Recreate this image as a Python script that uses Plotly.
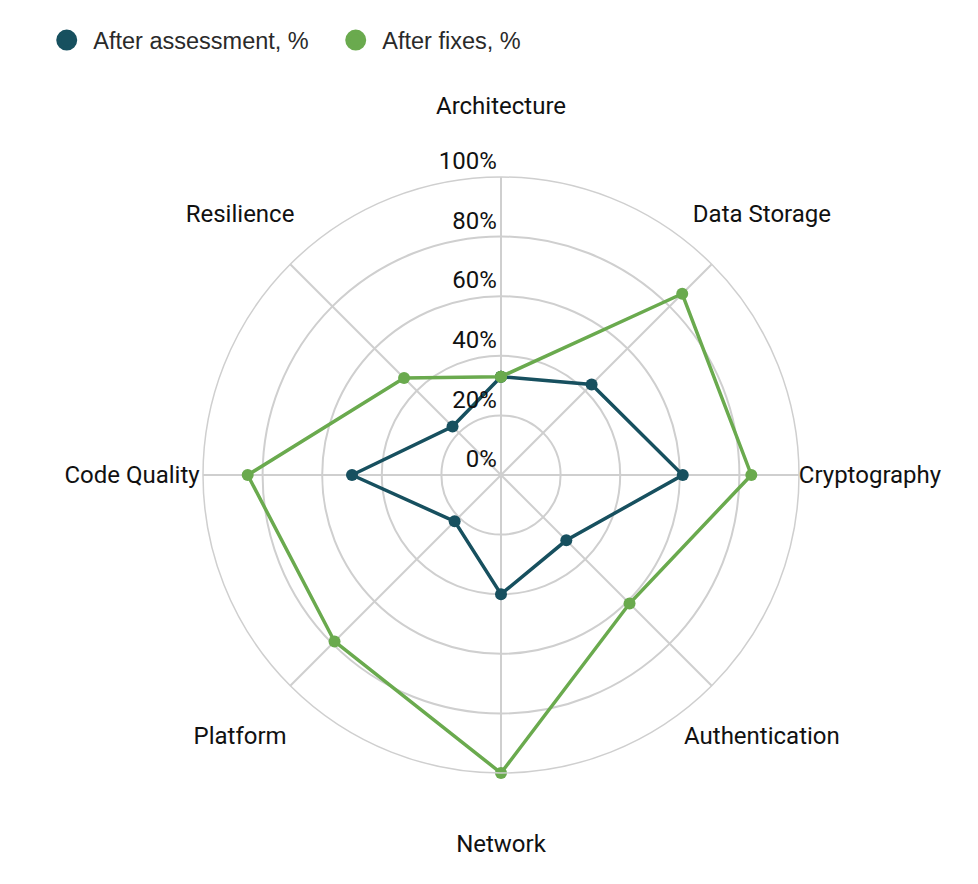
import plotly.graph_objects as go

categories = ["Architecture", "Data Storage", "Cryptography", "Authentication",
              "Network", "Platform", "Code Quality", "Resilience"]
after_assessment = [33, 43, 61, 31, 40, 22, 50, 23]
after_fixes = [33, 86, 84, 61, 100, 79, 85, 46]
radial_ticks = [0, 20, 40, 60, 80, 100]
radial_tick_labels = ["0%", "20%", "40%", "60%", "80%", "100%"]

TEAL = "#17505f"
GREEN = "#6aaa4e"
GRID = "#cfcfcf"
FONT = "Roboto"
W, H = 978, 884
TOP = 75  # top margin reserved for legend

# geometry (px in figure coordinates)
CX, CY, R = 493, 467, 298
LABEL_CY = 469
LABEL_RADIUS_PX = 369
LABEL_R = 100
LABEL_RANGE = 105
R2 = LABEL_RADIUS_PX * LABEL_RANGE / LABEL_R

def dom(cx, cy, r):
    ph = H - TOP
    return dict(x=[(cx - r) / W, (cx + r) / W],
                y=[1 - (cy + r - TOP) / ph, 1 - (cy - r - TOP) / ph])

def closed(v):
    return list(v) + [v[0]]

fig = go.Figure()

for name, vals, col in [("After assessment, %", after_assessment, TEAL),
                        ("After fixes, %", after_fixes, GREEN)]:
    fig.add_trace(go.Scatterpolar(
        r=closed(vals), theta=closed(categories), mode="lines+markers",
        line=dict(color=col, width=3.5), marker=dict(color=col, size=12),
        showlegend=False, name=name, hoverinfo="skip", subplot="polar"))

for name, col in [("After assessment, %", TEAL), ("After fixes, %", GREEN)]:
    fig.add_trace(go.Scatterpolar(
        r=[None], theta=[categories[0]], mode="markers", name="\u00a0" + name,
        marker=dict(color=col, size=16, line=dict(color=col, width=5)),
        subplot="polar"))

fig.add_trace(go.Scatterpolar(
    r=[LABEL_R] * len(categories), theta=categories, mode="text",
    text=categories, textposition="middle center",
    textfont=dict(family=FONT, size=24, color="#111111"),
    showlegend=False, hoverinfo="skip", subplot="polar2"))

fig.update_layout(
    width=W, height=H,
    paper_bgcolor="white", plot_bgcolor="white",
    margin=dict(l=0, r=0, t=TOP, b=0),
    font=dict(family=FONT, size=24, color="#111111"),
    showlegend=True,
    legend=dict(orientation="h", xref="container", yref="container",
                x=0.0396, y=0.9883, xanchor="left", yanchor="top",
                font=dict(family="Liberation Sans", size=23.5, color="#2a2a2a"),
                entrywidth=244, itemsizing="trace", bgcolor="rgba(0,0,0,0)"),
    polar=dict(
        domain=dom(CX, CY, R),
        bgcolor="white",
        radialaxis=dict(range=[0, 100], tickvals=radial_ticks,
                        ticktext=[t + "<br> " for t in radial_tick_labels],
                        angle=90, side="counterclockwise", tickangle=90,
                        showline=False, gridcolor=GRID, gridwidth=1.5,
                        ticks="", tickfont=dict(family=FONT, size=24, color="#111111")),
        angularaxis=dict(direction="clockwise", rotation=90,
                         showticklabels=False, ticks="",
                         showline=True, linecolor=GRID, linewidth=1.5,
                         gridcolor=GRID, gridwidth=1.5),
    ),
    polar2=dict(
        domain=dom(CX, LABEL_CY, R2),
        bgcolor="rgba(0,0,0,0)",
        radialaxis=dict(range=[0, LABEL_RANGE], visible=False),
        angularaxis=dict(direction="clockwise", rotation=90, categoryarray=categories,
                         categoryorder="array",
                         showticklabels=False, ticks="", showline=False, showgrid=False),
    ),
)

fig.write_html("out.html")
